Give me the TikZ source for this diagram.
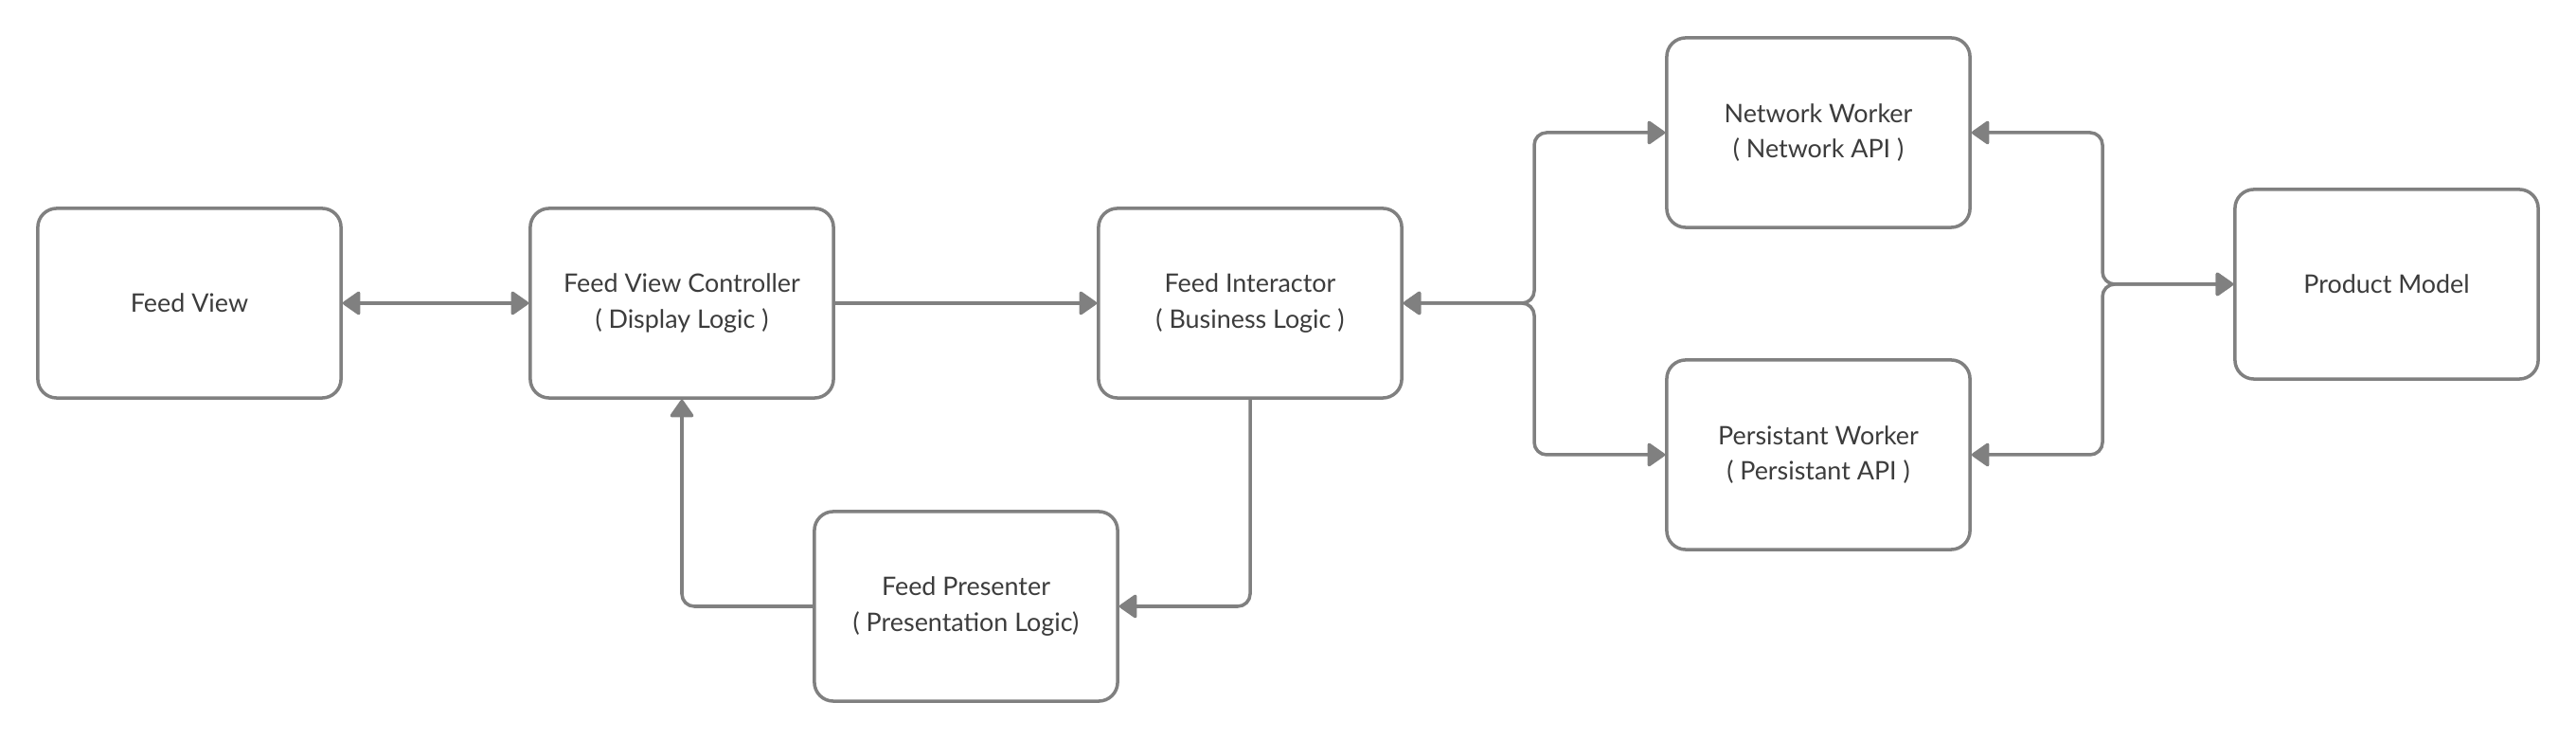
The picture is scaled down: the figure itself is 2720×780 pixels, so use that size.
\documentclass[tikz,border=0pt]{standalone}
\usepackage{fontspec}
\setmainfont{Lato}
\usetikzlibrary{arrows.meta}
\definecolor{linegray}{RGB}{128,128,128}
\definecolor{textgray}{RGB}{60,60,60}
\begin{document}
\begin{tikzpicture}[x=0.01cm, y=-0.01cm,
  box/.style={draw=linegray, line width=1pt, rounded corners=0.2cm,
    minimum width=3.2cm, minimum height=2cm, inner sep=0pt, align=center,
    text=textgray, font=\fontsize{7.65}{10.7}\selectfont},
  conn/.style={draw=linegray, line width=1pt, rounded corners=0.13cm},
  tip/.tip={Triangle[length=0.2cm, width=0.27cm, round]}]
\useasboundingbox[fill=white] (0,0) rectangle (2720,780);
\node[box] (fv)  at (200,320)  {Feed View};
\node[box] (fvc) at (720,320)  {Feed View Controller\\( Display Logic )};
\node[box] (fi)  at (1320,320) {Feed Interactor\\( Business Logic )};
\node[box] (fp)  at (1020,640) {Feed Presenter\\( Presentation Logic)};
\node[box] (nw)  at (1920,140) {Network Worker\\( Network API )};
\node[box] (pw)  at (1920,480) {Persistant Worker\\( Persistant API )};
\node[box] (pm)  at (2520,300) {Product Model};
\coordinate (jl) at (1620,320);
\coordinate (jr) at (2220,300);
\draw[conn, tip-tip] (fv.east) -- (fvc.west);
\draw[conn, -tip] (fvc.east) -- (fi.west);
\draw[conn, -tip] (fi.south) |- (fp.east);
\draw[conn, -tip] (fp.west) -| (fvc.south);
\draw[conn, tip-tip] (fi.east) -- (jl) |- (nw.west);
\draw[conn, tip-tip] (fi.east) -- (jl) |- (pw.west);
\draw[conn, tip-tip] (pm.west) -- (jr) |- (nw.east);
\draw[conn, tip-tip] (pm.west) -- (jr) |- (pw.east);
\end{tikzpicture}
\end{document}
